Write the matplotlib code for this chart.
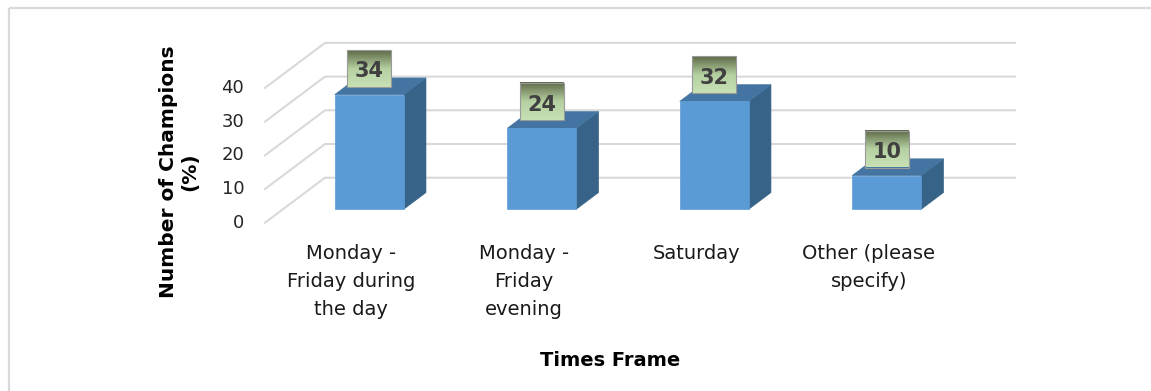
import matplotlib
matplotlib.use("Agg")
import matplotlib.pyplot as plt
import numpy as np
from matplotlib.patches import Polygon, Rectangle
from matplotlib.lines import Line2D
from matplotlib.transforms import offset_copy
from matplotlib.colors import to_rgb

# data
categories = ["Monday -\nFriday during\nthe day", "Monday -\nFriday\nevening",
              "Saturday", "Other (please\nspecify)"]
values = [34, 24, 32, 10]
yticks = [0, 10, 20, 30, 40]

# pseudo-3d look (oblique projection)
DX = 60 / 172.5   # x shift (category units) per unit of depth
DY = 45 / 3.37    # y shift (value units) per unit of depth
D0, D1 = 0.30, 0.67
HALF = 0.2

def proj(x, v, d):
    return (x + DX * d, v + DY * d)

fig = plt.figure(figsize=(11.51, 3.91), dpi=100)
ax = fig.add_axes([265 / 1151, 168.3 / 391, 690 / 1151, 134.8 / 391])
ax.axis("off")

grid_col = "#d9d9d9"
for v in yticks:
    xs, ys = zip(proj(-0.5, v, 0), proj(-0.5, v, 1), proj(3.5, v, 1))
    ax.add_line(Line2D(xs, ys, color=grid_col, lw=1.5, clip_on=False, zorder=1))

tick_tr = offset_copy(ax.transData, fig, x=-15, units="points")
for v in yticks:
    ax.text(-0.5, v, str(v), transform=tick_tr, ha="right", va="center",
            fontsize=13, color="#262626")

front_c, top_c, side_c = "#5b9bd5", "#4475a2", "#386388"
for i, v in enumerate(values):
    l, r = i - HALF, i + HALF
    side = [proj(r, 0, D0), proj(r, 0, D1), proj(r, v, D1), proj(r, v, D0)]
    top = [proj(l, v, D0), proj(r, v, D0), proj(r, v, D1), proj(l, v, D1)]
    front = [proj(l, 0, D0), proj(r, 0, D0), proj(r, v, D0), proj(l, v, D0)]
    for pts, c in ((side, side_c), (top, top_c), (front, front_c)):
        ax.add_patch(Polygon(pts, closed=True, fc=c, ec=c, lw=0.5,
                             clip_on=False, zorder=3))

# value label boxes with a gradient fill (dark at the top)
c_dark = np.array(to_rgb("#5f6a48"))
c_mid = np.array(to_rgb("#b4cfa0"))
c_light = np.array(to_rgb("#c8e2b6"))
t = np.linspace(0, 1, 60)
grad = np.array([c_dark + (c_mid - c_dark) * (tt / 0.5) if tt < 0.5
                 else c_mid + (c_light - c_mid) * ((tt - 0.5) / 0.5) for tt in t])
grad_img = np.repeat(grad[:, None, :], 4, axis=1)

bw = 44 / 172.5
bh = 37 / 3.37
for i, v in enumerate(values):
    cx, base = proj(i, v, D0)
    b0 = base + 8 / 3.37
    im = ax.imshow(grad_img, extent=(cx - bw / 2, cx + bw / 2, b0, b0 + bh),
                   origin="upper", aspect="auto", zorder=5, interpolation="bilinear")
    im.set_clip_on(False)
    ax.add_patch(Rectangle((cx - bw / 2, b0), bw, bh, fc="none", ec="#9a9a9a",
                           lw=0.8, clip_on=False, zorder=6))
    ax.text(cx, b0 + bh / 2 - 0.8, str(v), ha="center", va="center", fontsize=15,
            fontweight="bold", color="#404040", zorder=7)

cat_tr = offset_copy(ax.transData, fig, y=-15, units="points")
for i, lab in enumerate(categories):
    ax.text(i, 0, lab, transform=cat_tr, ha="center", va="top", fontsize=14,
            color="#1a1a1a", linespacing=1.6)

ax.set_xlim(-0.5, 3.5)
ax.set_ylim(0, 40)

fig.text(179 / 1151, 1 - 172 / 391, "Number of Champions\n(%)", rotation=90,
         ha="center", va="center", fontsize=14.5, fontweight="bold",
         linespacing=1.15)
fig.text(610 / 1151, 1 - 361 / 391, "Times Frame", ha="center", va="center",
         fontsize=14, fontweight="bold")

# chart border (only top and left visible in the crop)
fig.add_artist(Line2D([8.5 / 1151, 1], [1 - 7.5 / 391] * 2, color=grid_col, lw=1.6,
                      transform=fig.transFigure, solid_capstyle="butt"))
fig.add_artist(Line2D([8.5 / 1151] * 2, [0, 1 - 7.5 / 391], color=grid_col, lw=1.6,
                      transform=fig.transFigure, solid_capstyle="butt"))

fig.savefig("out.png", dpi=100)
